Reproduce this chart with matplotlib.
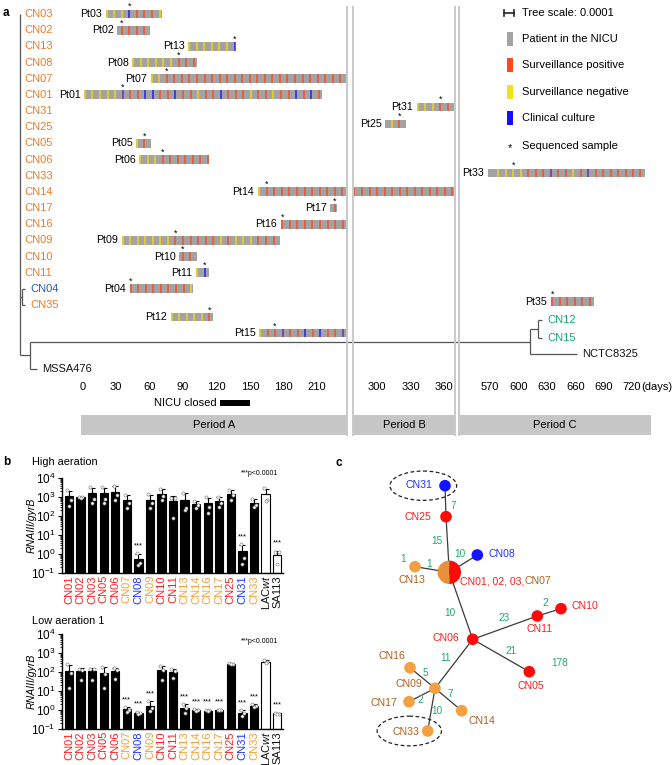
import matplotlib
matplotlib.use('Agg')
import matplotlib.pyplot as plt
import numpy as np
from matplotlib.patches import Rectangle, Circle, Wedge, Ellipse
from matplotlib.ticker import LogLocator, NullFormatter

plt.rcParams['font.family'] = ['Liberation Sans', 'DejaVu Sans']
plt.rcParams['mathtext.fontset'] = 'custom'
plt.rcParams['mathtext.rm'] = 'Liberation Sans'
plt.rcParams['mathtext.it'] = 'Liberation Sans:italic'
plt.rcParams['mathtext.bf'] = 'Liberation Sans:bold'

# ======================= DATA : panel a =======================
leaf_names = ['CN03', 'CN02', 'CN13', 'CN08', 'CN07', 'CN01', 'CN31', 'CN25', 'CN05',
              'CN06', 'CN33', 'CN14', 'CN17', 'CN16', 'CN09', 'CN10', 'CN11', 'CN04',
              'CN35', 'CN12', 'CN15', 'NCTC8325', 'MSSA476']
leaf_rows = [0, 1, 2, 3, 4, 5, 6, 7, 8, 9, 10, 11, 12, 13, 14, 15, 16, 17, 18,
             18.92, 20.04, 21.03, 21.95]
leaf_colors = ['#EF7B26'] * 17 + ['#2A5CAA', '#EF7B26', '#12A87A', '#12A87A', '#111111', '#111111']
# branch lengths in units of 0.0001 substitutions / site
clade_b_len = 0.27        # CN04/CN35 clade
clade_b_leaf = 0.3
outgroup_len = 1.05
mssa_len = 0.7
long_branch = 50.0
nctc_clade_len = 0.8
cn12_15_len = 0.4
nctc_len = 4.7

pt_names = ['Pt03', 'Pt02', 'Pt13', 'Pt08', 'Pt07', 'Pt01', 'Pt31', 'Pt25', 'Pt05', 'Pt06',
            'Pt33', 'Pt14', 'Pt17', 'Pt16', 'Pt09', 'Pt10', 'Pt11', 'Pt04', 'Pt35', 'Pt12', 'Pt15']
pt_rows = [0, 1, 2, 3, 4, 5, 5.75, 6.8, 8, 9, 9.83, 11, 12, 13, 14, 15, 16, 17, 17.8, 18.74, 19.73]
pt_periods = ['A', 'A', 'A', 'A', 'A', 'A', 'B', 'B', 'A', 'A', 'C', 'AB', 'A', 'A', 'A', 'A',
              'A', 'A', 'C', 'A', 'A']
pt_start = [21.0, 30.9, 94.5, 44.6, 61.3, 1.6, 335.4, 307.2, 47.9, 50.6, 567.6, 157.1, 221.6,
            177.7, 35.1, 86.7, 101.3, 42.5, 634.1, 79.0, 158.3]
pt_end = [71.2, 60.4, 136.5, 102.2, 236.8, 214.7, 369.0, 326.0, 61.3, 113.3, 733.7, 369.8,
          228.1, 236.8, 176.8, 102.5, 113.2, 98.7, 679.9, 117.1, 236.8]
pt_first = [21.7, 35.1, 95.6, 45.5, 62.0, 2.2, 336.3, 313.2, 48.5, 51.5, 578.8, 158.3, 226.0,
            178.9, 36.0, 89.7, 102.8, 43.2, 635.8, 79.9, 158.9]
pt_ticks = ['YYYBRRRY', 'RRRR', 'YYYYYYB', 'YYYYYYRRR', 'YY' + 'R' * 24,
            'YYYYYPRRBBRRBRRYRRBRRRYRRYRRBRBR', 'YYYRR', 'YR', 'YR', 'YYYRRRRRRR',
            'YYYYRRRPRRYRPRRRRRRR', 'Y' + 'R' * 31, 'R', 'R' * 9, 'YYYYYYYRRRRRRYRYYYRRR',
            'RR', 'YB', 'RRRRRRRRY', 'RRRRRR', 'YYYYYR', 'YRRPRRBRBRRP']
pt_seq = [3, 0, 6, 6, 2, 5, 3, 1, 1, 3, 2, 1, 0, 0, 7, 0, 1, 0, 0, 5, 2]
sample_step = {'A': 6.75, 'B': 6.75, 'C': 7.9}     # days between samples

periods = ['A', 'B', 'C']
period_xlim = {'A': (-1.34, 236.8), 'B': (278.5, 369.8), 'C': (537.3, 740.0)}
period_ticks = {'A': [0, 30, 60, 90, 120, 150, 180, 210], 'B': [300, 330, 360],
                'C': [570, 600, 630, 660, 690, 720]}
period_labels = {'A': 'Period A', 'B': 'Period B', 'C': 'Period C'}
nicu_closed = (123.1, 150.0)

legend_labels = ['Patient in the NICU', 'Surveillance positive', 'Surveillance negative',
                 'Clinical culture']

# ======================= DATA : panel b =======================
strains = ['CN01', 'CN02', 'CN03', 'CN05', 'CN06', 'CN07', 'CN08', 'CN09', 'CN10', 'CN11',
           'CN13', 'CN14', 'CN16', 'CN17', 'CN25', 'CN31', 'CN33', 'LAC$\\it{wt}$', 'SA113']
strain_cols = ['r', 'r', 'r', 'r', 'r', 'o', 'b', 'o', 'r', 'r', 'o', 'o', 'o', 'o', 'r', 'b', 'o', 'k', 'k']
high_reps = [[2200, 700, 350], [1050, 1000, 900], [3300, 800, 500], [3300, 800, 500],
             [3800, 1300, 700], [1300, 500, 250], [1.1, 0.35, 0.25], [1400, 500, 250],
             [2700, 1100, 700], [900, 850, 80], [1700, 250, 200], [600, 400, 250],
             [1000, 300, 150], [1000, 500, 300], [2400, 1300, 700], [3.2, 0.6, 0.3],
             [800, 400, 300], [3000, 700, 650], [1.3, 1.2, 0.3]]
low_reps = [[250, 90, 15], [150, 130, 40], [150, 140, 40], [180, 80, 15], [160, 130, 45],
            [1.4, 1.0, 0.8], [0.8, 0.7, 0.65], [3.0, 1.2, 0.9], [200, 120, 40],
            [140, 110, 50], [2.0, 1.2, 0.7], [1.1, 0.95, 0.85], [1.0, 0.95, 0.85],
            [1.0, 0.98, 0.95], [290, 280, 260], [0.95, 0.7, 0.5], [2.0, 1.6, 1.4],
            [420, 350, 300], [0.7, 0.65, 0.62]]
high_sig = ['CN08', 'CN31', 'SA113']
low_sig = ['CN07', 'CN08', 'CN09', 'CN13', 'CN14', 'CN16', 'CN17', 'CN31', 'CN33', 'SA113']

# ======================= DATA : panel c =======================
net_names = ['CN31', 'CN25', 'CN01', 'CN08', 'CN13', 'CN06', 'CN11', 'CN10', 'CN05',
             'CN09', 'CN16', 'CN17', 'CN14', 'CN33']
net_x = [445.0, 446.0, 449.3, 477.3, 415.0, 472.7, 537.3, 561.0, 529.3, 435.0, 410.0, 409.0, 461.7, 427.7]
net_y = [485.7, 516.7, 572.3, 555.0, 566.7, 639.3, 616.0, 608.7, 671.7, 688.3, 667.7, 701.7, 710.7, 731.0]
net_size = [5.8, 5.8, 11.7, 5.8, 5.8, 5.8, 5.8, 5.8, 5.8, 5.8, 5.8, 5.8, 5.8, 5.8]
net_col = ['b', 'r', 'split', 'b', 'o', 'r', 'r', 'r', 'r', 'o', 'o', 'o', 'o', 'o']
net_edges = [('CN31', 'CN25'), ('CN25', 'CN01'), ('CN01', 'CN08'), ('CN01', 'CN13'),
             ('CN01', 'CN06'), ('CN06', 'CN11'), ('CN11', 'CN10'), ('CN06', 'CN05'),
             ('CN06', 'CN09'), ('CN09', 'CN16'), ('CN09', 'CN17'), ('CN09', 'CN14'),
             ('CN09', 'CN33')]
snp_text = ['7', '15', '10', '1', '1', '10', '23', '2', '21', '178', '11', '5', '7', '2', '10']
snp_x = [453.3, 437.3, 460.0, 403.3, 429.0, 450.0, 504.3, 545.7, 511.0, 560.0, 446.0, 425.0, 450.7, 420.0, 437.3]
snp_y = [506.0, 541.0, 554.0, 559.3, 564.0, 613.3, 617.7, 602.7, 650.7, 662.7, 657.7, 672.7, 694.0, 700.0, 710.7]
lab_text = ['CN31', 'CN25', 'CN08', 'CN13', 'CN06', 'CN11', 'CN10', 'CN05', 'CN16', 'CN09', 'CN17', 'CN14', 'CN33']
lab_x = [419.2, 418.3, 501.8, 412.0, 445.5, 539.2, 584.5, 530.5, 391.5, 408.8, 383.8, 481.8, 406.2]
lab_y = [485.0, 516.7, 554.0, 580.0, 638.0, 629.0, 606.0, 686.0, 656.0, 684.3, 703.0, 721.0, 731.7]
lab_col = ['b', 'r', 'b', 'n', 'r', 'r', 'r', 'r', 'n', 'n', 'n', 'n', 'n']
circled = ['CN31', 'CN33']

# ======================= STYLE =======================
W, H = 672, 765
C = {'r': '#FF1E1E', 'o': '#F5A03C', 'b': '#1E32FF', 'k': '#111111', 'n': '#B0601E'}
NODE_C = {'r': '#FF0A0A', 'o': '#F5A040', 'b': '#1414FF'}
GREEN = '#20A86E'
BAR_GRAY = '#A3A3A3'
TICK_COL = {'R': '#F2502A', 'Y': '#F2D41C', 'B': '#2323F0', 'P': '#6B2DBE'}
SEP = '#C9C9C9'

fig = plt.figure(figsize=(W / 100, H / 100), dpi=100)


def px_axes(x0, y0, x1, y1, zorder=1):
    return fig.add_axes([x0 / W, 1 - y1 / H, (x1 - x0) / W, (y1 - y0) / H], zorder=zorder)


def blank(ax):
    ax.set_xticks([]); ax.set_yticks([])
    for s in ax.spines.values():
        s.set_visible(False)
    ax.patch.set_alpha(0)


ROW0, ROWH = 14.0, 16.17
A_TOP, A_BOT = 7, 435


def row_of(ypx):
    return (ypx - ROW0) / ROWH


YLIM = (row_of(A_BOT), row_of(A_TOP))

# ---------------- tree (panel a) ----------------
TX0, TXS = 19.5, 10.0
axt = px_axes(0, A_TOP, W, A_BOT, zorder=1)
blank(axt)
axt.set_xlim((0 - TX0) / TXS, (W - TX0) / TXS)
axt.set_ylim(*YLIM)
leaf_row = dict(zip(leaf_names, leaf_rows))
leaf_col = dict(zip(leaf_names, leaf_colors))
tree = ('root', 0.0, [(n, 0.0, []) for n in leaf_names[:17]] + [
    ('', clade_b_len, [('CN04', clade_b_leaf, []), ('CN35', clade_b_leaf, [])]),
    ('', outgroup_len, [
        ('', long_branch, [
            ('', nctc_clade_len, [('CN12', cn12_15_len, []), ('CN15', cn12_15_len, [])]),
            ('NCTC8325', nctc_len, [])]),
        ('MSSA476', mssa_len, [])])])


def draw_tree(node, xp):
    name, bl, ch = node
    x = xp + bl
    if ch:
        ys = [draw_tree(c, x) for c in ch]
        axt.plot([x, x], [min(ys), max(ys)], color='#555555', lw=0.9, solid_capstyle='butt')
        y = (min(ys) + max(ys)) / 2
    else:
        y = leaf_row[name]
        axt.text(x + 0.5, y, name, color=leaf_col[name], fontsize=8, ha='left', va='center')
    if bl > 0:
        axt.plot([xp, x], [y, y], color='#555555', lw=0.9, solid_capstyle='butt')
    return y


draw_tree(tree, 0.0)

# ---------------- timelines (panel a) ----------------
period_px = {'A': (81, 347), 'B': (353, 455), 'C': (459, 651)}
pax = {}
for p in periods:
    x0, x1 = period_px[p]
    ax = px_axes(x0, A_TOP, x1, A_BOT, zorder=2)
    blank(ax)
    ax.set_xlim(*period_xlim[p])
    ax.set_ylim(*YLIM)
    if p in 'BC':
        ax.spines['left'].set_visible(True)
        ax.spines['left'].set_color(SEP); ax.spines['left'].set_linewidth(1.4)
    if p in 'AB':
        ax.spines['right'].set_visible(True)
        ax.spines['right'].set_color(SEP); ax.spines['right'].set_linewidth(1.4)
    for t in period_ticks[p]:
        ax.text(t, row_of(387), str(t), ha='center', va='center', fontsize=8)
    ax.add_patch(Rectangle((0.0, row_of(415)), 1.0, row_of(435) - row_of(415),
                           transform=ax.get_yaxis_transform(), facecolor='#C6C6C6',
                           edgecolor='none', clip_on=False))
    ax.text(0.5, row_of(425), period_labels[p], transform=ax.get_yaxis_transform(),
            ha='center', va='center', fontsize=8)
    pax[p] = ax
pax['C'].annotate('(days)', xy=(period_ticks['C'][-1], row_of(387)), xytext=(6.6, 0),
                  textcoords='offset points', ha='left', va='center', fontsize=8,
                  annotation_clip=False)
axA = pax['A']
axA.add_patch(Rectangle((nicu_closed[0], row_of(403) - 0.17), nicu_closed[1] - nicu_closed[0], 0.34,
                        facecolor='black', edgecolor='none'))
axA.annotate('NICU closed', xy=(nicu_closed[0], row_of(403)), xytext=(-2.5, 0),
             textcoords='offset points', ha='right', va='center', fontsize=8)

BH = 0.55
for i, name in enumerate(pt_names):
    r = pt_rows[i]
    per = pt_periods[i]
    pos = pt_first[i] + sample_step[per[0]] * np.arange(len(pt_ticks[i]))
    cols = [TICK_COL[c] for c in pt_ticks[i]]
    for p in per:
        ax = pax[p]
        ax.add_patch(Rectangle((pt_start[i], r - BH / 2), pt_end[i] - pt_start[i], BH,
                               facecolor=BAR_GRAY, edgecolor='none'))
        ax.vlines(pos, r - BH / 2, r + BH / 2, colors=cols, lw=1.1)
    ax0 = pax[per[0]]
    ax0.annotate(name, xy=(pt_start[i], r), xytext=(-2.6, 0), textcoords='offset points',
                 ha='right', va='center', fontsize=7.7, annotation_clip=False)
    ax0.text(pos[pt_seq[i]], r - 0.45, '*', ha='center', va='center', fontsize=6.5)

# ---------------- overlay (layout items) ----------------
axo = px_axes(0, 0, W, H, zorder=5)
blank(axo)
axo.set_xlim(0, W); axo.set_ylim(H, 0)
# tree scale (0.0001 = one tree unit)
sx0 = 504
axo.plot([sx0, sx0 + TXS], [12.5, 12.5], color='#222222', lw=1.2)
axo.plot([sx0, sx0], [9.5, 15.5], color='#222222', lw=1.2)
axo.plot([sx0 + TXS, sx0 + TXS], [9.5, 15.5], color='#222222', lw=1.2)
axo.text(522, 12.5, 'Tree scale: 0.0001', fontsize=8, va='center')
leg_cols = [BAR_GRAY, '#FF4A1A', '#F2E01A', '#1010FF']
for k, (lab, col) in enumerate(zip(legend_labels, leg_cols)):
    yc = 39 + 26.4 * k
    axo.add_patch(Rectangle((507, yc - 7), 5.5, 14, facecolor=col, edgecolor='none'))
    axo.text(522, yc, lab, fontsize=8, va='center')
axo.text(509.7, 148.5, '*', fontsize=8, ha='center', va='center')
axo.text(522, 145.7, 'Sequenced sample', fontsize=8, va='center')
# panel letters & titles
axo.text(3, 13, 'a', fontsize=8.5, fontweight='bold', va='center')
axo.text(3, 462, 'b', fontsize=8.5, fontweight='bold', va='center')
axo.text(336, 463, 'c', fontsize=8.5, fontweight='bold', va='center')
axo.text(32, 462, 'High aeration', fontsize=7.9, va='center')
axo.text(32, 621, 'Low aeration 1', fontsize=7.9, va='center')

# ---------------- panel b ----------------
def bar_panel(ax, reps, sig, ptxt_y):
    reps = np.array(reps, dtype=float)
    n = len(strains)
    x = np.arange(n)
    means = reps.mean(axis=1)
    sds = reps.std(axis=1, ddof=1)
    ax.set_yscale('log')
    ax.set_ylim(0.1, 1e4)
    ax.set_xlim(-0.61, n - 0.49)
    face = ['white' if c == 'k' else 'black' for c in strain_cols]
    ax.bar(x, means - 0.1, bottom=0.1, width=0.72, color=face, edgecolor='black',
           linewidth=0.8, zorder=2)
    ax.errorbar(x, means, yerr=[np.zeros(n), sds], fmt='none', ecolor='black',
                elinewidth=0.8, capsize=2, capthick=0.8, zorder=3)
    offs = np.array([-0.15, 0.15, 0.0])
    for i in range(n):
        ax.scatter(x[i] + offs, reps[i], s=5, facecolor='white', edgecolor='#8a8a8a',
                   linewidths=0.5, zorder=4)
    for s in sig:
        i = strains.index(s)
        ax.text(x[i], (means[i] + sds[i]) * 1.7, '***', ha='center', va='bottom', fontsize=5.5)
    ax.text(16.5, ptxt_y, '***p<0.0001', ha='center', va='center', fontsize=5, clip_on=False)
    ax.spines['top'].set_visible(False); ax.spines['right'].set_visible(False)
    for s in ['left', 'bottom']:
        ax.spines[s].set_linewidth(1.0)
    ax.yaxis.set_major_locator(LogLocator(base=10, numticks=10))
    ax.yaxis.set_minor_locator(LogLocator(base=10, subs=np.arange(2, 10), numticks=20))
    ax.yaxis.set_minor_formatter(NullFormatter())
    ax.tick_params(axis='y', which='major', length=3, width=0.8, labelsize=8.5, pad=1.5)
    ax.tick_params(axis='y', which='minor', length=1.5, width=0.6)
    ax.set_xticks(x)
    ax.set_xticklabels(strains, rotation=90, fontsize=8.0)
    ax.tick_params(axis='x', length=0, pad=1.5)
    for lab, c in zip(ax.get_xticklabels(), strain_cols):
        lab.set_color(C[c])
    ax.set_ylabel('RNAIII/gyrB', style='italic', fontsize=7.6)
    ax.yaxis.set_label_coords(-0.113, 0.5)
    ax.patch.set_alpha(0)


axh = px_axes(62, 478, 283, 573, zorder=3)
bar_panel(axh, high_reps, high_sig, 10 ** 4.25)
axl = px_axes(62, 634, 283, 729, zorder=3)
bar_panel(axl, low_reps, low_sig, 10 ** 3.6)

# ---------------- panel c ----------------
axc = px_axes(360, 440, W, H, zorder=3)
blank(axc)
axc.set_xlim(360, W); axc.set_ylim(H, 440)
npos = {n: (x, y) for n, x, y in zip(net_names, net_x, net_y)}
for a, b in net_edges:
    axc.plot([npos[a][0], npos[b][0]], [npos[a][1], npos[b][1]], color='#3a3a3a', lw=0.9, zorder=1)
for n, x, y, r, c in zip(net_names, net_x, net_y, net_size, net_col):
    if c == 'split':
        axc.add_patch(Wedge((x, y), r, 90, 270, facecolor='#E8913A', edgecolor='none', zorder=2))
        axc.add_patch(Wedge((x, y), r, 270, 90, facecolor=NODE_C['r'], edgecolor='none', zorder=2))
    else:
        axc.add_patch(Circle((x, y), r, facecolor=NODE_C[c], edgecolor='none', zorder=2))
for t, x, y in zip(snp_text, snp_x, snp_y):
    axc.text(x, y, t, color=GREEN, fontsize=7.2, ha='center', va='center', zorder=3)
for t, x, y, c in zip(lab_text, lab_x, lab_y, lab_col):
    axc.text(x, y, t, color=C[c], fontsize=7.6, ha='center', va='center', zorder=3)
t1 = axc.text(460, 581, 'CN01, 02, 03,', color=C['r'], fontsize=7.6, ha='left', va='center')
axc.annotate('CN07', xy=(1, 0.5), xycoords=t1, color=C['n'], fontsize=7.6, ha='left', va='center')
for n, (cx, w, h) in zip(circled, [(423.3, 66.7, 29.3), (409.3, 64.3, 29.7)]):
    axc.add_patch(Ellipse((cx, npos[n][1]), w, h, fill=False, ls=(0, (3, 2)), lw=0.9,
                          edgecolor='#222222', zorder=3))

fig.savefig('out.png', dpi=100)
